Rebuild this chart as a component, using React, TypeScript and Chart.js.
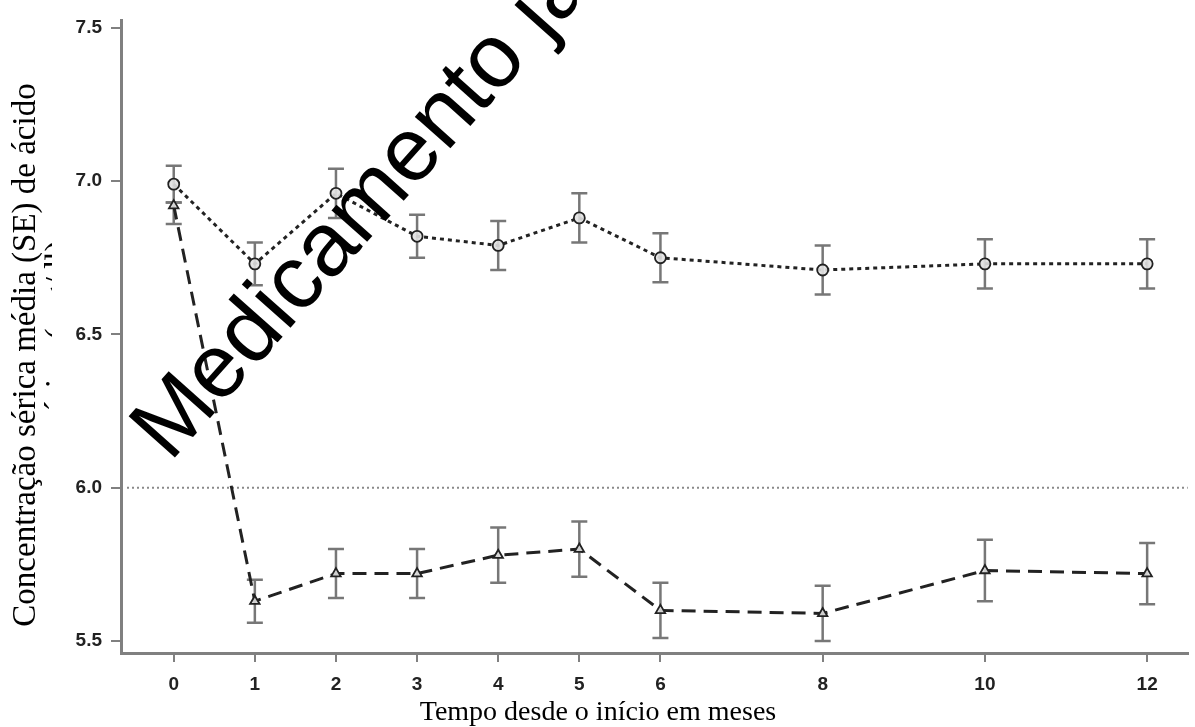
import React, { useEffect, useRef } from "react";
import { Chart, registerables } from "chart.js";

Chart.register(...registerables);

const months = [0, 1, 2, 3, 4, 5, 6, 8, 10, 12];
const xTickValues = [0, 1, 2, 3, 4, 5, 6, 8, 10, 12];
const yTickValues = [5.5, 6.0, 6.5, 7.0, 7.5];

// circle series (dotted line)
const circleMean = [6.99, 6.73, 6.96, 6.82, 6.79, 6.88, 6.75, 6.71, 6.73, 6.73];
const circleLow = [6.93, 6.66, 6.88, 6.75, 6.71, 6.80, 6.67, 6.63, 6.65, 6.65];
const circleHigh = [7.05, 6.80, 7.04, 6.89, 6.87, 6.96, 6.83, 6.79, 6.81, 6.81];

// triangle series (dashed line)
const triMean = [6.92, 5.63, 5.72, 5.72, 5.78, 5.80, 5.60, 5.59, 5.73, 5.72];
const triLow = [6.86, 5.56, 5.64, 5.64, 5.69, 5.71, 5.51, 5.50, 5.63, 5.62];
const triHigh = [6.93, 5.70, 5.80, 5.80, 5.87, 5.89, 5.69, 5.68, 5.83, 5.82];

const referenceValue = 6.0;

const xTitle = "Tempo desde o início em meses";
const yTitle1 = "Concentração sérica média (SE) de ácido";
const yTitle2 = "úrico (mg/dl)";
const watermark = "Medicamento já não autorizado";

const errorBarPlugin = {
  id: "errorBars",
  beforeDatasetsDraw(chart: any) {
    const { ctx, scales } = chart;
    const xs = scales.x;
    const ys = scales.y;
    const ca = chart.chartArea;
    // reference line
    ctx.save();
    ctx.strokeStyle = "#8a8a8a";
    ctx.lineWidth = 2;
    ctx.setLineDash([2, 3]);
    const ry = ys.getPixelForValue(referenceValue);
    ctx.beginPath();
    ctx.moveTo(ca.left + 6, ry);
    ctx.lineTo(ca.right, ry);
    ctx.stroke();
    ctx.restore();

    const sets = [
      [circleLow, circleHigh],
      [triLow, triHigh],
    ];
    ctx.save();
    ctx.strokeStyle = "#777777";
    ctx.lineWidth = 2.5;
    ctx.setLineDash([]);
    sets.forEach(([lo, hi]) => {
      months.forEach((m, i) => {
        const px = xs.getPixelForValue(m);
        const y1 = ys.getPixelForValue(lo[i]);
        const y2 = ys.getPixelForValue(hi[i]);
        ctx.beginPath();
        ctx.moveTo(px, y1);
        ctx.lineTo(px, y2);
        ctx.moveTo(px - 8, y1);
        ctx.lineTo(px + 8, y1);
        ctx.moveTo(px - 8, y2);
        ctx.lineTo(px + 8, y2);
        ctx.stroke();
      });
    });
    ctx.restore();
  },
};

const textPlugin = {
  id: "texts",
  afterDraw(chart: any) {
    const { ctx } = chart;
    ctx.save();
    ctx.fillStyle = "#000";
    ctx.font = '28px "Liberation Serif", "Times New Roman", serif';
    ctx.textAlign = "center";
    ctx.textBaseline = "alphabetic";
    ctx.fillText(xTitle, 598, 720);

    ctx.font = '33px "Liberation Serif", "Times New Roman", serif';
    ctx.save();
    ctx.translate(35, 355);
    ctx.rotate(-Math.PI / 2);
    ctx.fillText(yTitle1, 0, 0);
    ctx.restore();

    ctx.save();
    ctx.beginPath();
    ctx.rect(0, 0, 52, 727);
    ctx.clip();
    ctx.translate(68, 328);
    ctx.rotate(-Math.PI / 2);
    ctx.fillText(yTitle2, 0, 0);
    ctx.restore();

    ctx.save();
    ctx.font = '90px "Liberation Sans", Arial, sans-serif';
    ctx.textAlign = "left";
    ctx.translate(170, 463);
    ctx.rotate((-48.3 * Math.PI) / 180);
    ctx.fillText(watermark, 0, 0);
    ctx.restore();
    ctx.restore();
  },
};

export default function App() {
  const ref = useRef<HTMLCanvasElement | null>(null);
  useEffect(() => {
    if (!ref.current) return;
    const tickFont = { family: '"Liberation Sans", Arial, sans-serif', size: 19, weight: "bold" as const };
    const chart = new Chart(ref.current, {
      type: "line",
      data: {
        datasets: [
          {
            label: "circle",
            data: months.map((m, i) => ({ x: m, y: circleMean[i] })),
            borderColor: "#222",
            borderWidth: 3,
            borderDash: [4, 4],
            pointStyle: "circle",
            pointRadius: 5.5,
            pointBorderWidth: 1.8,
            pointBorderColor: "#222",
            pointBackgroundColor: "rgba(225,225,225,0.9)",
            fill: false,
            tension: 0,
          },
          {
            label: "triangle",
            data: months.map((m, i) => ({ x: m, y: triMean[i] })),
            borderColor: "#222",
            borderWidth: 3,
            borderDash: [14, 8],
            pointStyle: "triangle",
            pointRadius: 5.5,
            pointBorderWidth: 1.8,
            pointBorderColor: "#222",
            pointBackgroundColor: "rgba(225,225,225,0.9)",
            fill: false,
            tension: 0,
          },
        ],
      },
      options: {
        animation: false,
        responsive: false,
        layout: { padding: { top: 13, left: 0, right: 0, bottom: 0 } },
        plugins: { legend: { display: false }, tooltip: { enabled: false } },
        scales: {
          x: {
            type: "linear",
            min: -0.65,
            max: 12.5,
            afterBuildTicks: (s: any) => {
              s.ticks = xTickValues.map((v) => ({ value: v }));
            },
            afterFit: (s: any) => {
              s.height = 74;
            },
            grid: { display: true, drawOnChartArea: false, drawTicks: true, tickLength: 9, color: "#808080", lineWidth: 2 },
            border: { display: true, color: "#808080", width: 3 },
            ticks: { font: tickFont, color: "#222", padding: 11, maxRotation: 0, autoSkip: false, callback: (v: any) => String(v) },
          },
          y: {
            type: "linear",
            min: 5.461,
            max: 7.524,
            afterBuildTicks: (s: any) => {
              s.ticks = yTickValues.map((v) => ({ value: v }));
            },
            afterFit: (s: any) => {
              s.width = 121;
            },
            grid: { display: true, drawOnChartArea: false, drawTicks: true, tickLength: 10, color: "#808080", lineWidth: 2 },
            border: { display: true, color: "#808080", width: 3 },
            ticks: { font: tickFont, color: "#222", padding: 9, callback: (v: any) => Number(v).toFixed(1) },
          },
        },
      },
      plugins: [errorBarPlugin, textPlugin],
    });
    return () => chart.destroy();
  }, []);
  return (
    <div style={{ position: "absolute", left: 0, top: 0, width: 1195, height: 727, background: "#fff" }}>
      <canvas ref={ref} width={1195} height={727} />
    </div>
  );
}
